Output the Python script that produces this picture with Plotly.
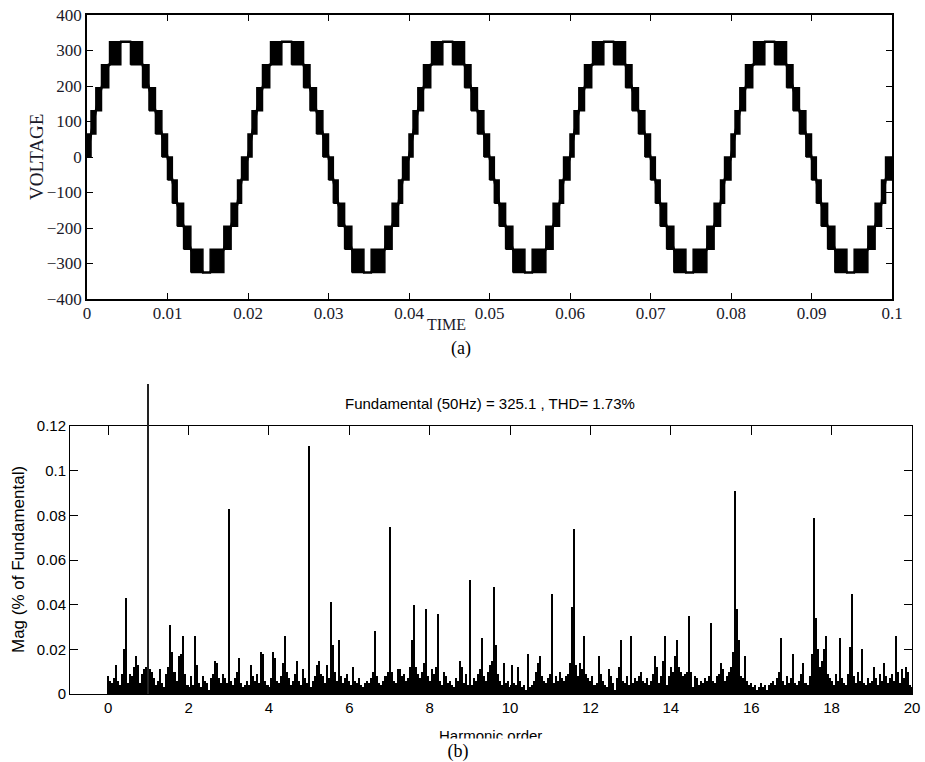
import plotly.graph_objects as go
import numpy as np

# ---------------- Data: (a) multilevel inverter output voltage ----------------
# One period (0.02 s) of switching blocks: start time, end time, level before, level after
block_t0 = [0.0000, 0.0005, 0.0011, 0.0018, 0.0028, 0.0054, 0.0069, 0.0077, 0.0085, 0.0093,
            0.0100, 0.0106, 0.0112, 0.0120, 0.0129, 0.0153, 0.0170, 0.0179, 0.0187, 0.0192]
block_t1 = [0.0005, 0.0011, 0.0018, 0.0027, 0.0042, 0.0069, 0.0077, 0.0085, 0.0093, 0.0100,
            0.0106, 0.0112, 0.0120, 0.0129, 0.0144, 0.0170, 0.0179, 0.0187, 0.0192, 0.0200]
block_from = [0, 65, 130, 195, 260, 325, 260, 195, 130, 65,
              0, -65, -130, -195, -260, -325, -260, -195, -130, -65]
block_to = [65, 130, 195, 260, 325, 260, 195, 130, 65, 0,
            -65, -130, -195, -260, -325, -260, -195, -130, -65, 0]
cycle_start = [0.00, 0.02, 0.04, 0.06, 0.08]

time_ticks = [0, 0.01, 0.02, 0.03, 0.04, 0.05, 0.06, 0.07, 0.08, 0.09, 0.1]
time_labels = ["0", "0.01", "0.02", "0.03", "0.04", "0.05", "0.06", "0.07", "0.08", "0.09", "0.1"]
volt_ticks = [-400, -300, -200, -100, 0, 100, 200, 300, 400]

# ---------------- Data: (b) FFT spectrum (% of fundamental), step 0.05 ----------------
harm_step = 0.05
mag_rows = [
    [0.008, 0.006, 0.005, 0.007, 0.013, 0.006, 0.004, 0.009, 0.020, 0.043, 0.005, 0.009, 0.008, 0.012, 0.017, 0.013, 0.005, 0.009, 0.011, 0.012],
    [0.012, 0.011, 0.010, 0.007, 0.004, 0.006, 0.011, 0.005, 0.003, 0.009, 0.012, 0.031, 0.019, 0.010, 0.006, 0.017, 0.018, 0.026, 0.009, 0.004],
    [0.003, 0.008, 0.004, 0.026, 0.013, 0.005, 0.003, 0.008, 0.006, 0.005, 0.002, 0.007, 0.009, 0.015, 0.014, 0.007, 0.005, 0.009, 0.007, 0.005],
    [0.083, 0.006, 0.004, 0.007, 0.010, 0.016, 0.005, 0.003, 0.004, 0.006, 0.004, 0.013, 0.008, 0.006, 0.009, 0.005, 0.019, 0.018, 0.006, 0.004],
    [0.003, 0.007, 0.019, 0.016, 0.006, 0.005, 0.008, 0.014, 0.026, 0.010, 0.007, 0.004, 0.006, 0.009, 0.015, 0.006, 0.004, 0.011, 0.007, 0.005],
    [0.111, 0.003, 0.006, 0.008, 0.013, 0.015, 0.009, 0.008, 0.005, 0.013, 0.007, 0.041, 0.022, 0.010, 0.006, 0.024, 0.008, 0.005, 0.007, 0.009],
    [0.006, 0.004, 0.012, 0.006, 0.005, 0.007, 0.004, 0.003, 0.005, 0.006, 0.005, 0.007, 0.010, 0.028, 0.008, 0.005, 0.004, 0.006, 0.008, 0.010],
    [0.075, 0.010, 0.006, 0.005, 0.011, 0.011, 0.008, 0.009, 0.006, 0.007, 0.012, 0.024, 0.040, 0.012, 0.009, 0.007, 0.010, 0.014, 0.038, 0.008],
    [0.006, 0.011, 0.009, 0.012, 0.036, 0.006, 0.004, 0.010, 0.008, 0.005, 0.006, 0.004, 0.003, 0.007, 0.006, 0.015, 0.012, 0.005, 0.009, 0.004],
    [0.051, 0.004, 0.007, 0.006, 0.009, 0.011, 0.025, 0.008, 0.006, 0.010, 0.013, 0.015, 0.048, 0.022, 0.009, 0.006, 0.004, 0.014, 0.005, 0.006],
    [0.003, 0.013, 0.005, 0.004, 0.012, 0.006, 0.003, 0.004, 0.002, 0.018, 0.003, 0.004, 0.006, 0.010, 0.014, 0.017, 0.008, 0.006, 0.005, 0.007],
    [0.009, 0.045, 0.005, 0.008, 0.006, 0.010, 0.007, 0.006, 0.008, 0.009, 0.014, 0.039, 0.074, 0.013, 0.008, 0.014, 0.011, 0.026, 0.009, 0.007],
    [0.006, 0.008, 0.004, 0.005, 0.017, 0.009, 0.006, 0.004, 0.003, 0.011, 0.008, 0.005, 0.002, 0.007, 0.012, 0.024, 0.006, 0.005, 0.008, 0.004],
    [0.026, 0.005, 0.007, 0.006, 0.008, 0.010, 0.006, 0.005, 0.007, 0.004, 0.006, 0.009, 0.017, 0.012, 0.005, 0.008, 0.015, 0.026, 0.004, 0.008],
    [0.012, 0.010, 0.017, 0.024, 0.012, 0.010, 0.008, 0.009, 0.010, 0.035, 0.010, 0.003, 0.008, 0.007, 0.004, 0.006, 0.005, 0.007, 0.006, 0.008],
    [0.032, 0.006, 0.005, 0.008, 0.009, 0.014, 0.011, 0.006, 0.008, 0.010, 0.012, 0.019, 0.091, 0.038, 0.024, 0.008, 0.007, 0.017, 0.006, 0.004],
    [0.005, 0.003, 0.004, 0.002, 0.003, 0.005, 0.003, 0.004, 0.002, 0.004, 0.005, 0.006, 0.004, 0.007, 0.010, 0.025, 0.006, 0.004, 0.008, 0.005],
    [0.007, 0.018, 0.005, 0.004, 0.006, 0.009, 0.014, 0.005, 0.004, 0.008, 0.018, 0.079, 0.034, 0.020, 0.012, 0.015, 0.020, 0.026, 0.009, 0.007],
    [0.006, 0.004, 0.009, 0.006, 0.025, 0.007, 0.005, 0.004, 0.009, 0.021, 0.045, 0.008, 0.005, 0.010, 0.006, 0.020, 0.005, 0.004, 0.007, 0.005],
    [0.006, 0.012, 0.007, 0.004, 0.009, 0.006, 0.014, 0.008, 0.005, 0.007, 0.009, 0.006, 0.026, 0.010, 0.005, 0.011, 0.007, 0.012, 0.010, 0.004],
    [0.003],
]
fund_order = [1]
fund_mag = [100.0]
harm_ticks = [0, 2, 4, 6, 8, 10, 12, 14, 16, 18, 20]
mag_ticks = [0, 0.02, 0.04, 0.06, 0.08, 0.1, 0.12]
mag_labels = ["0", "0.02", "0.04", "0.06", "0.08", "0.1", "0.12"]

title_b = "Fundamental (50Hz) = 325.1 , THD= 1.73%"

# ---------------- Build ----------------
W, H = 925, 762
def fx(px): return px / W
def fy(py): return 1 - py / H

rect_x, rect_y, path_x, path_y = [], [], [], []
for c in cycle_start:
    for t0, t1, a, b in zip(block_t0, block_t1, block_from, block_to):
        lo, hi = min(a, b), max(a, b)
        rect_x += [c + t0, c + t1, c + t1, c + t0, c + t0, None]
        rect_y += [lo, lo, hi, hi, lo, None]
        path_x += [c + t0, c + t1]
        path_y += [a, b]

mags = [v for row in mag_rows for v in row]
orders = list(np.round(np.arange(len(mags)) * harm_step, 3))

fig = go.Figure()
fig.add_trace(go.Scatter(x=rect_x, y=rect_y, mode="lines", fill="toself",
                         fillcolor="black", line=dict(color="black", width=1.5),
                         xaxis="x", yaxis="y", hoverinfo="skip"))
fig.add_trace(go.Scatter(x=path_x, y=path_y, mode="lines",
                         line=dict(color="black", width=2.5), xaxis="x", yaxis="y"))
fig.add_trace(go.Bar(x=orders, y=mags, width=harm_step, marker=dict(color="black", line=dict(width=0)),
                     xaxis="x2", yaxis="y2"))
fig.add_trace(go.Bar(x=fund_order, y=fund_mag, width=0.025, marker=dict(color="#222", line=dict(width=0)),
                     xaxis="x3", yaxis="y3"))

serif = "Liberation Serif, Times New Roman, serif"
sans = "Liberation Sans, Arial, sans-serif"
txtc = "#1a1a2a"

ax_common = dict(showline=True, linecolor="black", linewidth=1.5, mirror="ticks", ticks="inside",
                 tickcolor="black", showgrid=False, zeroline=False, automargin=False)

fig.update_layout(
    width=W, height=H, margin=dict(l=0, r=0, t=0, b=0, autoexpand=False),
    paper_bgcolor="white", plot_bgcolor="rgba(0,0,0,0)", showlegend=False, bargap=0,
    xaxis=dict(domain=[fx(87), fx(892)], range=[0, 0.1], anchor="y",
               tickvals=time_ticks, ticktext=time_labels, ticklen=6, ticklabelstandoff=-2,
               tickfont=dict(family=serif, size=17, color=txtc), **ax_common),
    yaxis=dict(domain=[fy(299), fy(15)], range=[-400, 400], anchor="x",
               tickvals=volt_ticks, ticklen=6,
               tickfont=dict(family=serif, size=17, color=txtc), **ax_common),
    xaxis2=dict(domain=[fx(70), fx(912)], range=[-0.95, 20], anchor="y2",
                tickvals=harm_ticks, ticklen=9,
                tickfont=dict(family=sans, size=15, color="black"),
                **{**ax_common, "linewidth": 1}),
    yaxis2=dict(domain=[fy(694), fy(426)], range=[0, 0.12], anchor="x2",
                tickvals=mag_ticks, ticktext=mag_labels, ticklen=8,
                tickfont=dict(family=sans, size=15, color="black"),
                **{**ax_common, "linewidth": 1}),
    xaxis3=dict(domain=[fx(70), fx(912)], range=[-0.95, 20], anchor="y3", visible=False, automargin=False),
    yaxis3=dict(domain=[fy(694), fy(384)], range=[0, 100], anchor="x3", visible=False, automargin=False),
)

ann = [
    dict(text="VOLTAGE", x=fx(36), y=fy(157), textangle=-90, font=dict(family=serif, size=19, color=txtc)),
    dict(text="TIME", x=fx(446), y=fy(324), font=dict(family=serif, size=16, color=txtc)),
    dict(text="(a)", x=fx(461), y=fy(348), font=dict(family=serif, size=18, color="black")),
    dict(text=title_b, x=fx(490), y=fy(403), font=dict(family=sans, size=15, color="black")),
    dict(text="Mag (% of Fundamental)", x=fx(18), y=fy(560), textangle=-90,
         font=dict(family=sans, size=17, color="black")),
    dict(text="Harmonic order", x=fx(490), y=fy(735), font=dict(family=sans, size=15, color="black")),
    dict(text="(b)", x=fx(458), y=fy(738), yanchor="top", width=200, height=23, bgcolor="white",
         font=dict(family=serif, size=18, color="black")),
]
for a in ann:
    a.setdefault("xref", "paper"); a.setdefault("yref", "paper")
    a.setdefault("showarrow", False)
    a.setdefault("xanchor", "center"); a.setdefault("yanchor", "middle")
fig.update_layout(annotations=ann)

fig.write_html("out.html", config={"displayModeBar": False},
               post_script="document.body.style.margin='0px';")
